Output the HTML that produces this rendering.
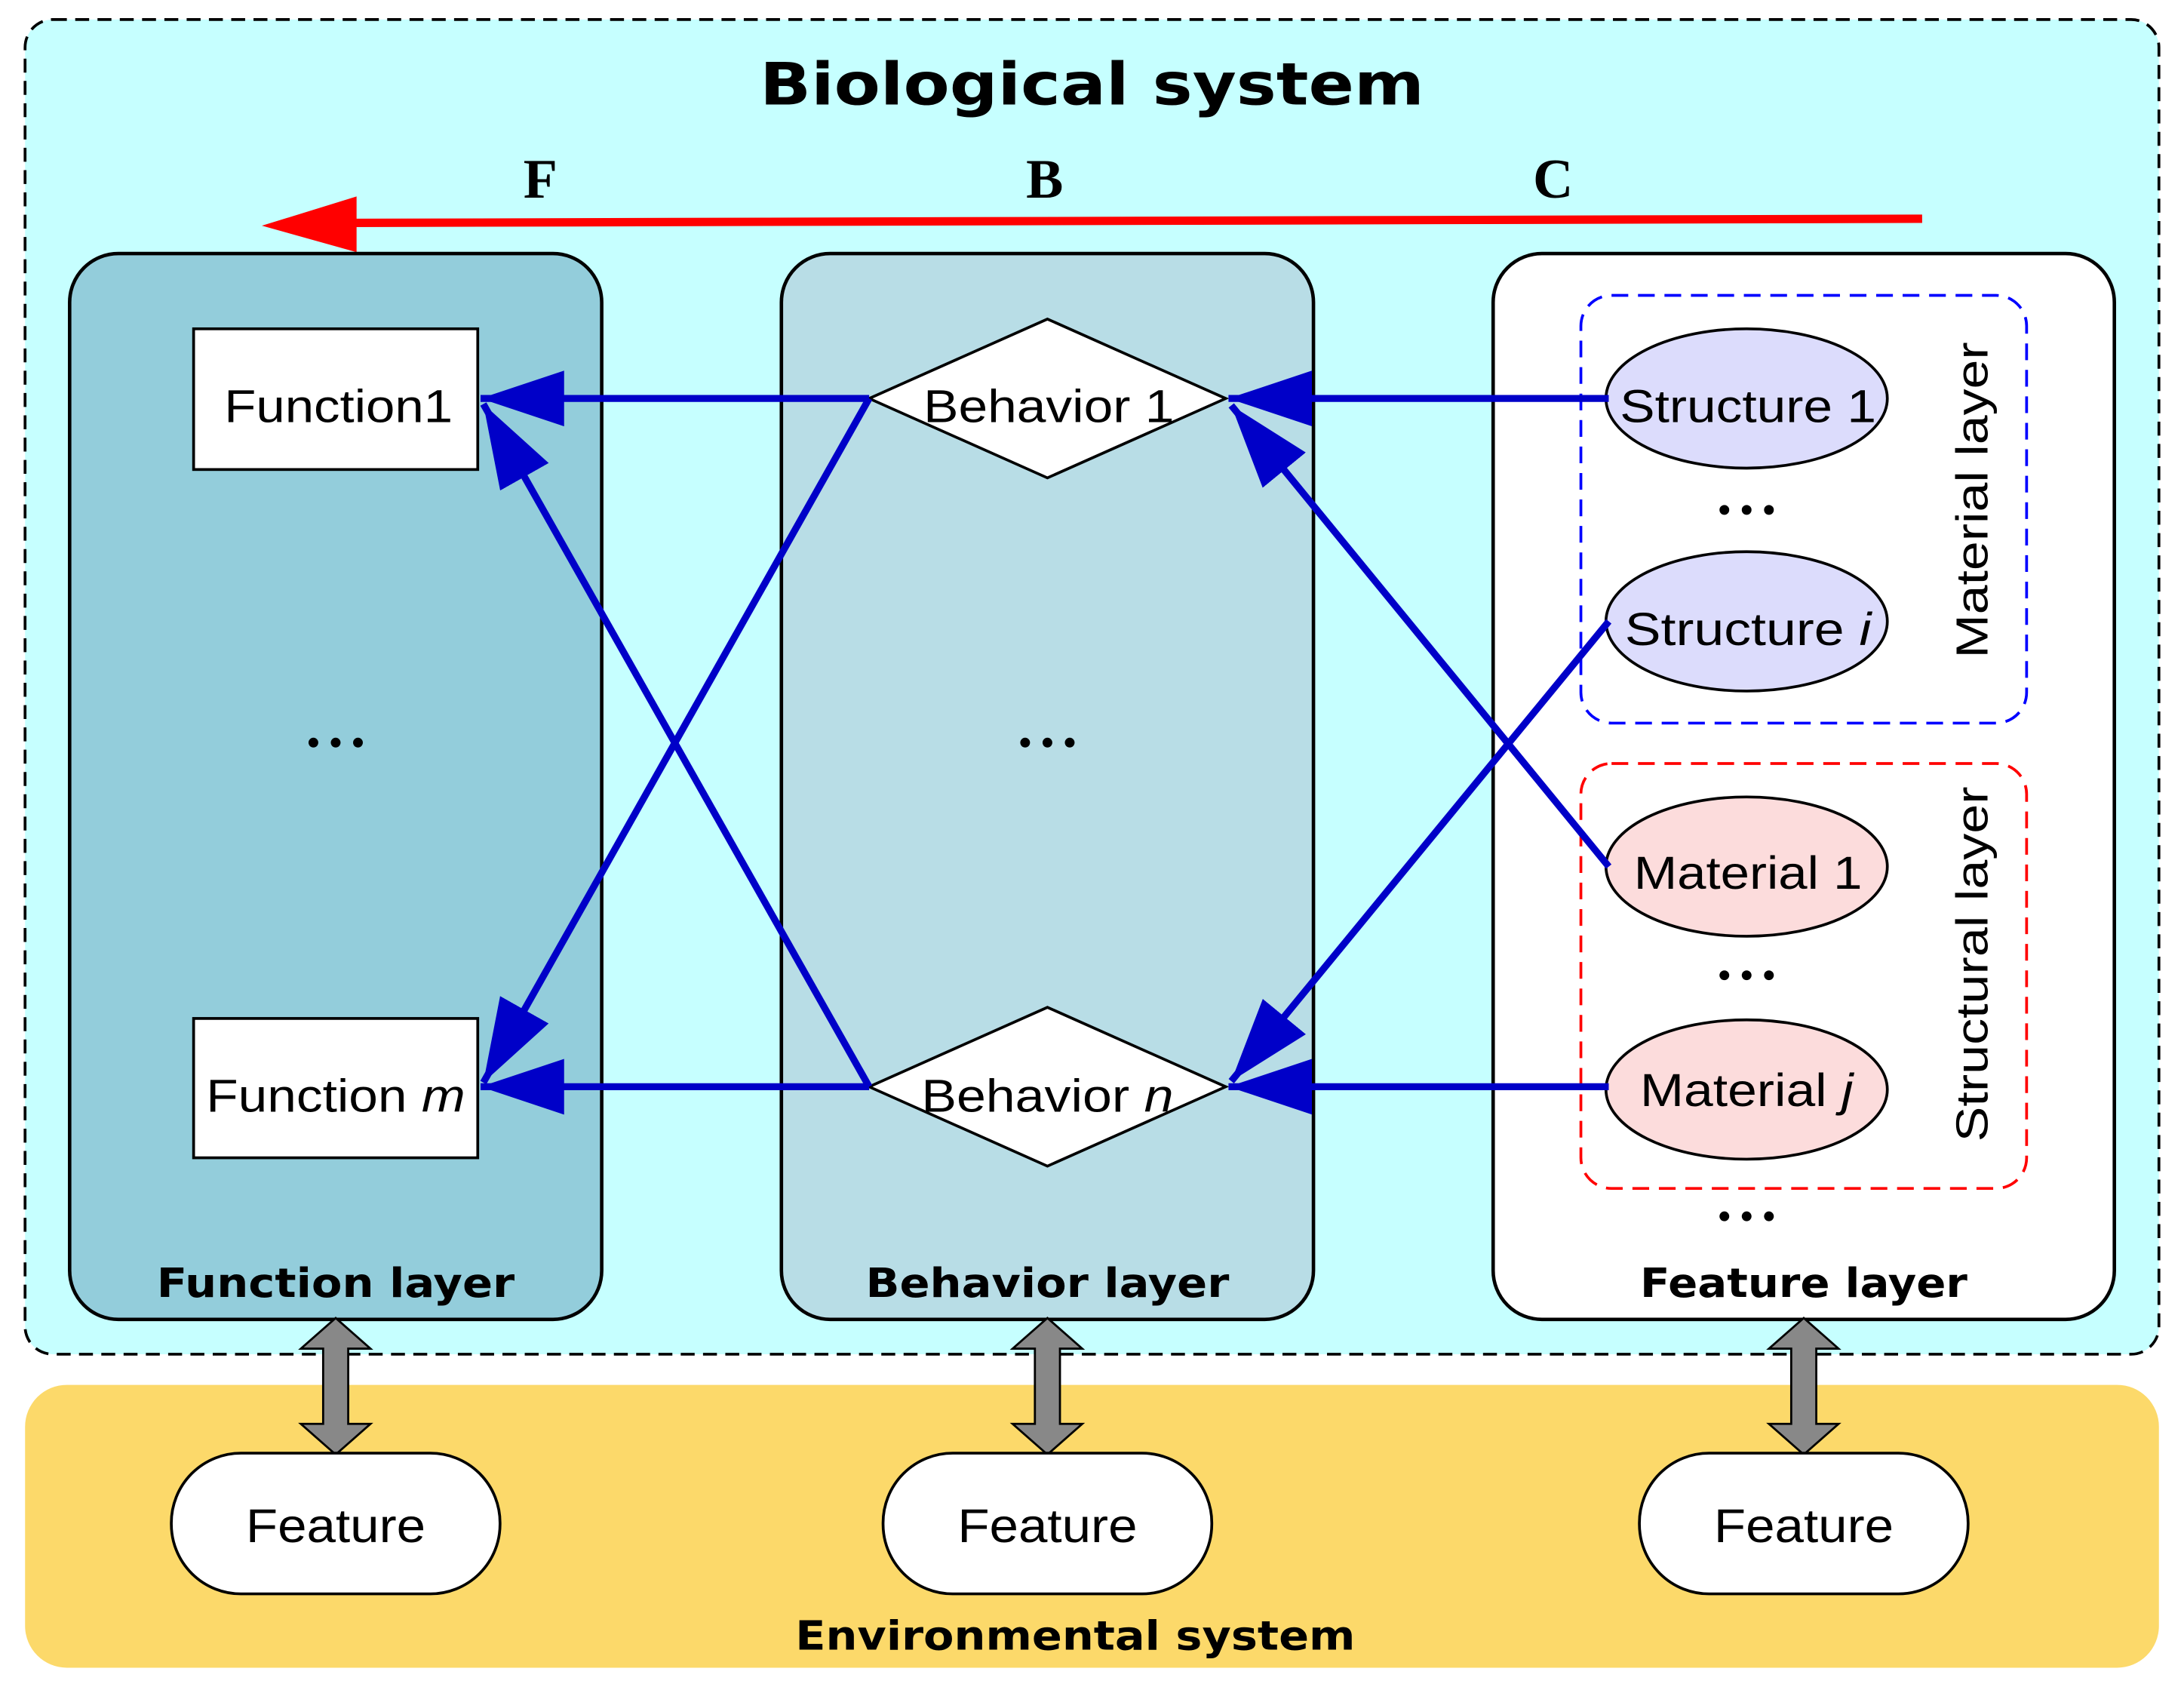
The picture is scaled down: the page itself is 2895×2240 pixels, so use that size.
<!DOCTYPE html>
<html><head><meta charset="utf-8"><style>html,body{margin:0;padding:0;background:#fff}svg{display:block}</style></head>
<body>
<svg width="2895" height="2240" viewBox="0 0 1568 1213" preserveAspectRatio="none" xmlns="http://www.w3.org/2000/svg" font-family="Liberation Sans, sans-serif">
<defs>
<marker id="ah" markerUnits="userSpaceOnUse" markerWidth="64" markerHeight="44" refX="60" refY="20" orient="auto" viewBox="0 0 64 44">
<path d="M0,0 L60,20 L0,40 z" fill="#0000c8"/>
</marker>
<g id="dots"><circle cx="-16" cy="0" r="3.5"/><circle cx="0" cy="0" r="3.5"/><circle cx="16" cy="0" r="3.5"/></g>
</defs>
<rect x="18" y="14" width="1532" height="958" rx="20" fill="#c6ffff" stroke="#000" stroke-width="2" stroke-dasharray="10,6"/>
<rect x="18" y="994" width="1532" height="203" rx="30" fill="#fcd96a"/>
<g font-family="Liberation Serif, serif" font-weight="bold" font-size="40" text-anchor="middle">
<text x="388" y="142">F</text><text x="750" y="142">B</text><text x="1115" y="142">C</text></g>
<line x1="1380" y1="157" x2="250" y2="160" stroke="#f00" stroke-width="6"/>
<polygon points="188,162 256,141 256,181" fill="#f00"/>
<rect x="50" y="182" width="382" height="765" rx="35" fill="#93cddb" stroke="#000" stroke-width="2.5"/>
<rect x="561" y="182" width="382" height="765" rx="35" fill="#b8dde6" stroke="#000" stroke-width="2.5"/>
<rect x="1072" y="182" width="446" height="765" rx="35" fill="#fff" stroke="#000" stroke-width="2.5"/>
<g font-family="DejaVu Sans, sans-serif" font-weight="bold" text-anchor="middle">
<text x="784" y="75" font-size="42" textLength="477" lengthAdjust="spacingAndGlyphs">Biological system</text>
<text x="772" y="1184" font-size="29" textLength="402" lengthAdjust="spacingAndGlyphs">Environmental system</text>
<text x="241" y="931" font-size="29" textLength="257" lengthAdjust="spacingAndGlyphs">Function layer</text>
<text x="752" y="931" font-size="29" textLength="261" lengthAdjust="spacingAndGlyphs">Behavior layer</text>
<text x="1295" y="931" font-size="29" textLength="235" lengthAdjust="spacingAndGlyphs">Feature layer</text>
</g>
<rect x="1135" y="212" width="320" height="307" rx="22" fill="none" stroke="#00f" stroke-width="2" stroke-dasharray="12,7"/>
<rect x="1135" y="548" width="320" height="305" rx="22" fill="none" stroke="#f00" stroke-width="2" stroke-dasharray="12,7"/>
<g font-size="32" text-anchor="middle">
<text transform="translate(1427,359) rotate(-90)" textLength="227" lengthAdjust="spacingAndGlyphs">Material layer</text>
<text transform="translate(1427,692) rotate(-90)" textLength="255" lengthAdjust="spacingAndGlyphs">Structural layer</text></g>
<rect x="139" y="236" width="204" height="101" fill="#fff" stroke="#000" stroke-width="2"/>
<rect x="139" y="731" width="204" height="100" fill="#fff" stroke="#000" stroke-width="2"/>
<polygon points="624,286 752,229 880,286 752,343" fill="#fff" stroke="#000" stroke-width="2"/>
<polygon points="624,780 752,723 880,780 752,837" fill="#fff" stroke="#000" stroke-width="2"/>
<ellipse cx="1254" cy="286" rx="101" ry="50" fill="#dcdcfc" stroke="#000" stroke-width="2"/>
<ellipse cx="1254" cy="446" rx="101" ry="50" fill="#dcdcfc" stroke="#000" stroke-width="2"/>
<ellipse cx="1254" cy="622" rx="101" ry="50" fill="#fcdcdc" stroke="#000" stroke-width="2"/>
<ellipse cx="1254" cy="782" rx="101" ry="50" fill="#fcdcdc" stroke="#000" stroke-width="2"/>
<g font-size="33" text-anchor="middle">
<text x="243" y="303" textLength="164" lengthAdjust="spacingAndGlyphs">Function1</text>
<text x="241" y="798" textLength="186" lengthAdjust="spacingAndGlyphs">Function <tspan font-style="italic">m</tspan></text>
<text x="753" y="303" textLength="180" lengthAdjust="spacingAndGlyphs">Behavior 1</text>
<text x="752" y="798" textLength="181" lengthAdjust="spacingAndGlyphs">Behavior <tspan font-style="italic">n</tspan></text>
<text x="1255" y="303" textLength="184" lengthAdjust="spacingAndGlyphs">Structure 1</text>
<text x="1255" y="463" textLength="177" lengthAdjust="spacingAndGlyphs">Structure <tspan font-style="italic">i</tspan></text>
<text x="1255" y="638" textLength="164" lengthAdjust="spacingAndGlyphs">Material 1</text>
<text x="1254" y="794" textLength="153" lengthAdjust="spacingAndGlyphs">Material <tspan font-style="italic">j</tspan></text>
</g>
<g fill="#000">
<use href="#dots" x="241" y="533"/><use href="#dots" x="752" y="533"/>
<use href="#dots" x="1254" y="366"/><use href="#dots" x="1254" y="700"/><use href="#dots" x="1254" y="873"/>
</g>
<g stroke="#0000c8" stroke-width="5" fill="none" marker-end="url(#ah)">
<line x1="1155" y1="286" x2="882" y2="286"/>
<line x1="624" y1="286" x2="345" y2="286"/>
<line x1="624" y1="780" x2="345" y2="780"/>
<line x1="1155" y1="780" x2="882" y2="780"/>
<line x1="624" y1="286" x2="347" y2="777"/>
<line x1="624" y1="780" x2="347" y2="290"/>
<line x1="1155" y1="622" x2="884" y2="291"/>
<line x1="1155" y1="446" x2="884" y2="776"/>
</g>
<g fill="#888" stroke="#000" stroke-width="1.5">
<polygon points="241,946 266,968 250,968 250,1022 266,1022 241,1044 216,1022 232,1022 232,968 216,968"/>
<polygon points="752,946 777,968 761,968 761,1022 777,1022 752,1044 727,1022 743,1022 743,968 727,968"/>
<polygon points="1295,946 1320,968 1304,968 1304,1022 1320,1022 1295,1044 1270,1022 1286,1022 1286,968 1270,968"/>
</g>
<g fill="#fff" stroke="#000" stroke-width="2">
<rect x="123" y="1043" width="236" height="101" rx="50"/>
<rect x="634" y="1043" width="236" height="101" rx="50"/>
<rect x="1177" y="1043" width="236" height="101" rx="50"/>
</g>
<g font-size="34" text-anchor="middle">
<text x="241" y="1107" textLength="129" lengthAdjust="spacingAndGlyphs">Feature</text>
<text x="752" y="1107" textLength="129" lengthAdjust="spacingAndGlyphs">Feature</text>
<text x="1295" y="1107" textLength="129" lengthAdjust="spacingAndGlyphs">Feature</text></g>
</svg>
</body></html>
